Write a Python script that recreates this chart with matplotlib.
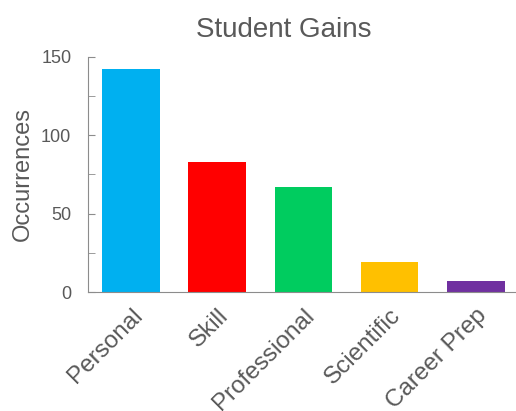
import numpy as np
import matplotlib.pyplot as plt
from matplotlib.ticker import MultipleLocator

categories = ["Personal", "Skill", "Professional", "Scientific", "Career Prep"]
occurrences = [142, 83, 67, 19, 7]
colors = ["#00B0F0", "#FF0000", "#00CC5F", "#FFC000", "#7030A0"]

plt.rcParams['font.family'] = ['Liberation Sans', 'DejaVu Sans']
txt = "#595959"
grey = "#8C8C8C"

fig = plt.figure(figsize=(5.16, 4.11), dpi=100)
ax = fig.add_axes([0.1705, 0.2895, 0.835, 0.572])

x = np.arange(len(categories))
ax.bar(x, occurrences, width=0.67, color=colors)

ax.set_xlim(-0.5, 4.5)
ax.set_ylim(0, 150)
ax.yaxis.set_major_locator(MultipleLocator(50))
ax.yaxis.set_minor_locator(MultipleLocator(25))
ax.tick_params(axis='y', which='both', direction='in', color=grey, labelcolor=txt,
               labelsize=13, length=5, pad=12)
ax.tick_params(axis='x', length=0, labelcolor=txt, labelsize=17.5, pad=9)
ax.set_xticks(x)
ax.set_xticklabels(categories, rotation=45, ha='right', rotation_mode='anchor')

for s in ['top', 'right']:
    ax.spines[s].set_visible(False)
for s in ['left', 'bottom']:
    ax.spines[s].set_color(grey)

ax.set_ylabel("Occurrences", fontsize=17, color=txt, labelpad=5)
ax.set_title("Student Gains", fontsize=20, color=txt, pad=14, x=0.455)

fig.savefig("out.png", dpi=100)
